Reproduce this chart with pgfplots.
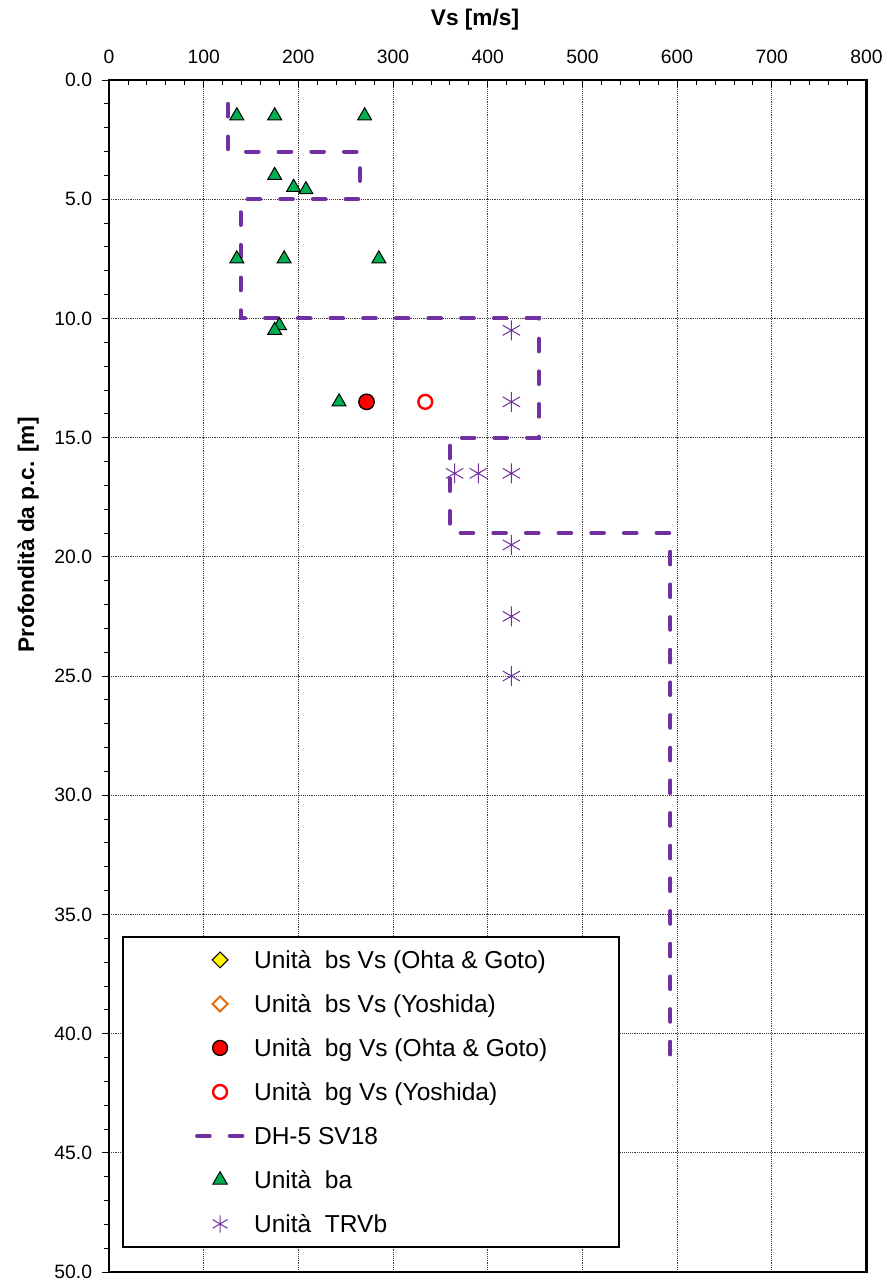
\documentclass[border=0pt]{standalone}
\usepackage{pgfplots}
\pgfplotsset{compat=1.18}
\usepackage{fontspec}
\setmainfont{Liberation Sans}
\definecolor{cpurple}{RGB}{112,48,160}
\definecolor{cgreen}{RGB}{0,176,80}
\definecolor{corange}{RGB}{228,108,10}
\begin{document}
\begin{tikzpicture}
\begin{axis}[
  name=ax,
  scale only axis,
  width=568.1pt, height=894pt,
  xmin=0, xmax=800, ymin=0, ymax=50,
  y dir=reverse,
  xtick={0,100,...,800},
  ytick={0,5,...,50},
  minor x tick num=4, minor y tick num=4,
  xtick pos=right, ytick pos=left,
  xticklabel pos=right,
  xtick align=inside, ytick align=outside,
  major tick length=5pt, minor tick length=4pt,
  grid=major,
  major grid style={densely dotted, black!75, line width=0.6pt},
  axis line style={line width=1.7pt},
  tick style={black, line width=0.6pt},
  tick label style={font=\fontsize{14.5}{16}\selectfont},
  /pgf/number format/assume math mode=true,
  yticklabel={\pgfmathprintnumber[fixed,fixed zerofill,precision=1]{\tick}},
  xticklabel style={anchor=south, inner sep=0pt, yshift=12pt},
  yticklabel style={anchor=east, inner sep=0pt, xshift=-7.5pt},
  label style={font=\bfseries\fontsize{17}{20}\selectfont},
  xlabel={Vs [m/s]},
  ylabel={Profondità da p.c. [m]},
  xlabel style={at={(axis description cs:0.4832,1.0461)}, anchor=base},
  ylabel style={at={(axis description cs:-0.099,0.6183)}, anchor=base},
  legend image code/.code={\draw[mark repeat=2,mark phase=2,#1] plot coordinates {(1.5pt,0pt) (18.75pt,0pt) (36pt,0pt)};},
  legend style={at={(axis description cs:0.01716,0.0201)}, anchor=south west,
    draw=black, line width=1.6pt, fill=white,
    font=\fontsize{18.4}{20}\selectfont,
    inner xsep=54pt, inner ysep=8.8pt, row sep=16pt, column sep=6.75pt,
    nodes={inner sep=0pt, text height=15pt, text depth=2pt}},
  legend cell align=left,
]
% DH-5 SV18
\addplot[forget plot, cpurple, line width=3pt, line cap=round, dash pattern=on 9.5pt off 15pt]
  coordinates {(126,1) (126,3) (265,3) (265,5) (139,5) (139,10) (454,10) (454,15) (360,15) (360,19) (593,19) (593,41)};
% Unita bg Vs (Ohta & Goto)
\addplot[forget plot, only marks, mark=*, mark size=5.8pt, mark options={fill=red, draw=black, line width=1pt}]
  coordinates {(272,13.5)};
% Unita bg Vs (Yoshida)
\addplot[forget plot, only marks, mark=*, mark size=5.2pt, mark options={fill=white, draw=red, line width=1.8pt}]
  coordinates {(334,13.5)};
% Unita ba
\addplot[forget plot, only marks, mark=triangle*, mark size=6pt, mark options={fill=cgreen, draw=black, line width=0.75pt}]
  coordinates {(135,1.5) (175,1.5) (270,1.5) (175,4.0) (195,4.5) (208,4.6) (135,7.5) (185,7.5) (285,7.5) (180,10.3) (175,10.5) (243,13.5)};
% Unita TRVb
\addplot[forget plot, only marks, mark=asterisk, mark size=7.5pt, mark options={draw=cpurple, line width=0.75pt}]
  coordinates {(425,10.5) (425,13.5) (365,16.5) (390,16.5) (425,16.5) (425,19.5) (425,22.5) (425,25.0)};

\addlegendimage{only marks, mark=square*, mark size=4.2pt, mark options={rotate=45, fill=yellow, draw=black, line width=0.75pt}}
\addlegendentry{Unità\ \ bs Vs (Ohta \& Goto)}
\addlegendimage{only marks, mark=square*, mark size=4pt, mark options={rotate=45, fill=white, draw=corange, line width=1.5pt}}
\addlegendentry{Unità\ \ bs Vs (Yoshida)}
\addlegendimage{only marks, mark=*, mark size=5.6pt, mark options={fill=red, draw=black, line width=1pt}}
\addlegendentry{Unità\ \ bg Vs (Ohta \& Goto)}
\addlegendimage{only marks, mark=*, mark size=5.2pt, mark options={fill=white, draw=red, line width=1.8pt}}
\addlegendentry{Unità\ \ bg Vs (Yoshida)}
\addlegendimage{cpurple, line width=3pt, line cap=round, dash pattern=on 9.5pt off 15pt}
\addlegendentry{DH-5 SV18}
\addlegendimage{only marks, mark=triangle*, mark size=6.2pt, mark options={fill=cgreen, draw=black, line width=0.75pt}}
\addlegendentry{Unità\ \ ba}
\addlegendimage{only marks, mark=asterisk, mark size=6.5pt, mark options={draw=cpurple, line width=0.75pt}}
\addlegendentry{Unità\ \ TRVb}
\end{axis}
\pgfresetboundingbox
\path[use as bounding box] ([shift={(-81.75pt,-9pt)}]ax.south west) rectangle ([shift={(13.9pt,60pt)}]ax.north east);
\end{tikzpicture}
\end{document}
